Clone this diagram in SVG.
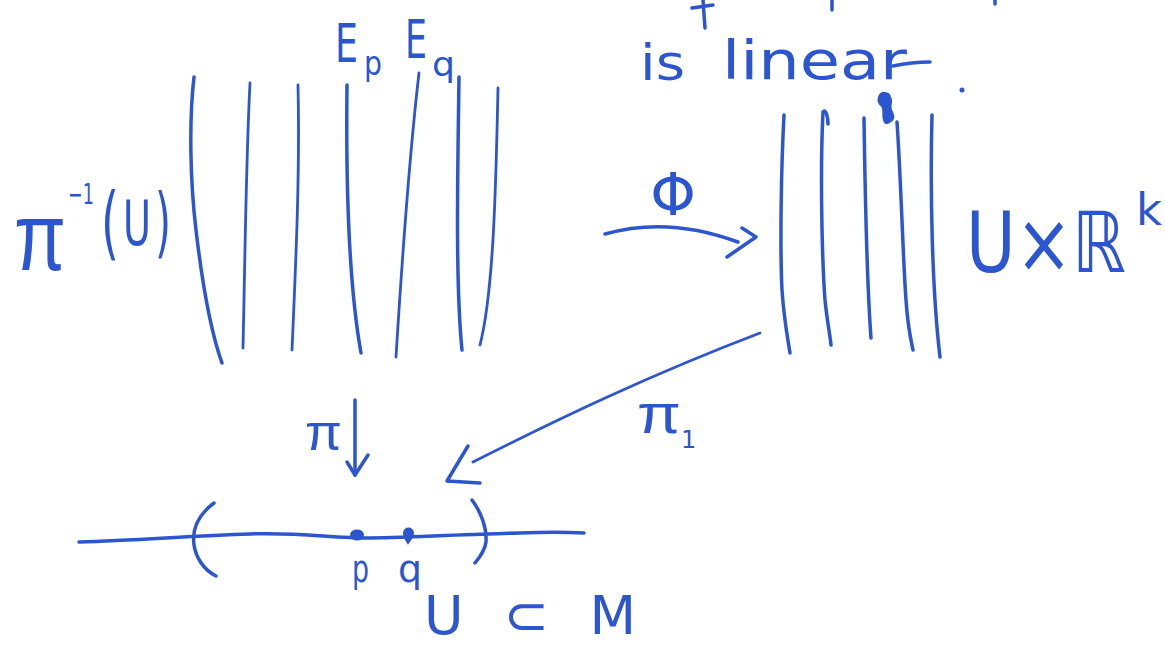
<svg xmlns="http://www.w3.org/2000/svg" width="1165" height="647" viewBox="0 0 1165 647">
  <style>
    .ink { fill: none; stroke: #2c56cf; stroke-width: 3.5; stroke-linecap: round; stroke-linejoin: round; }
    .thin { stroke-width: 2.8; }
    .lbl { fill: #2c56cf; stroke: none; font-family: "DejaVu Sans", "Liberation Sans", sans-serif; }
    .pi { font-family: "Liberation Sans", "DejaVu Sans", sans-serif; }
    .dot { fill: #2c56cf; stroke: #2c56cf; stroke-width: 2; }
  </style>
  <rect width="1165" height="647" fill="#ffffff"/>

  <!-- fragments of cut-off text at top edge -->
  <g id="top-fragments" class="ink">
    <path d="M703,0 L705,28"/>
    <path d="M692,8 L713,5"/>
    <path d="M832,0 L832,10"/>
    <path d="M995,0 L995,4"/>
  </g>

  <g id="label-is-linear">
    <text class="lbl" x="640" y="80" font-size="50" textLength="45" lengthAdjust="spacingAndGlyphs">is</text>
    <text class="lbl" x="722" y="79" font-size="54" textLength="185" lengthAdjust="spacingAndGlyphs">linear</text>
    <path class="ink" d="M893,66 Q912,62 930,62"/>
  </g>

  <g id="node-preimage">
    <g id="bundle-left" class="ink">
      <path d="M194,77 C189,120 190,180 196,230 C203,290 212,335 222,363"/>
      <path class="thin" d="M250,83 C246,160 245,260 243,348"/>
      <path class="thin" d="M298,85 C300,170 296,260 292,350"/>
      <path d="M347,85 C346,170 348,280 361,353"/>
      <path class="thin" d="M419,73 C410,150 402,260 396,357"/>
      <path d="M459,77 C458,160 455,280 462,350"/>
      <path class="thin" d="M498,88 C496,180 494,290 480,345"/>
    </g>
    <text class="lbl pi" x="14" y="270" font-size="96" textLength="52" lengthAdjust="spacingAndGlyphs">π</text>
    <text class="lbl" x="68" y="204" font-size="28" textLength="26" lengthAdjust="spacingAndGlyphs">−1</text>
    <text class="lbl" x="101" y="250" font-size="80" textLength="18" lengthAdjust="spacingAndGlyphs">(</text>
    <text class="lbl" x="123" y="245" font-size="62" textLength="28" lengthAdjust="spacingAndGlyphs">U</text>
    <text class="lbl" x="155" y="248" font-size="76" textLength="16" lengthAdjust="spacingAndGlyphs">)</text>
  </g>

  <g id="label-fibres">
    <text class="lbl" x="335" y="62" font-size="54" textLength="23" lengthAdjust="spacingAndGlyphs">E</text>
    <text class="lbl" x="364" y="75" font-size="34" textLength="18" lengthAdjust="spacingAndGlyphs">p</text>
    <text class="lbl" x="405" y="58" font-size="54" textLength="22" lengthAdjust="spacingAndGlyphs">E</text>
    <text class="lbl" x="432" y="76" font-size="34" textLength="23" lengthAdjust="spacingAndGlyphs">q</text>
  </g>

  <g id="node-product">
    <g id="bundle-right" class="ink">
      <path d="M784,115 C781,170 780,250 782,290 C784,320 788,340 790,353"/>
      <path d="M823,112 C826,108 828,118 828,124 M823,112 C820,170 822,260 825,300 C827,320 830,335 831,345"/>
      <path d="M864,118 C865,180 866,270 871,338"/>
      <path d="M897,122 C901,180 903,260 906,300 C908,330 912,345 913,350"/>
      <path d="M932,115 C930,190 932,290 940,357"/>
      <path class="dot" d="M879,97 C881,91 889,92 890,97 C893,101 889,106 891,110 C893,114 895,118 891,121 C887,124 885,124 884,120 C882,115 885,110 882,106 C878,103 878,100 879,97 Z"/>
    </g>
    <circle class="dot" cx="962" cy="90" r="1.5"/>
    <text class="lbl" x="966" y="272" font-size="84" textLength="160" lengthAdjust="spacingAndGlyphs">U×ℝ</text>
    <text class="lbl" x="1136" y="225" font-size="44" textLength="26" lengthAdjust="spacingAndGlyphs">k</text>
  </g>

  <g id="node-base">
    <path class="ink" d="M79,542 C140,540 190,536 250,534 C300,532 330,538 370,538 C420,537 470,534 520,533 C545,532 565,532 584,533"/>
    <path class="ink" d="M214,503 C198,515 192,530 194,545 C196,558 204,570 216,576"/>
    <path class="ink" d="M472,500 C481,512 487,528 486,542 C485,550 480,557 475,563"/>
    <path class="dot" d="M351,535 C351,529 363,529 363,535 C363,541 351,541 351,535 Z"/>
    <path class="dot" d="M404,533 C404,527 413,527 413,533 C413,537 410,540 408,543 C406,540 404,537 404,533 Z"/>
    <text class="lbl" x="352" y="582" font-size="38" textLength="17" lengthAdjust="spacingAndGlyphs">p</text>
    <text class="lbl" x="398" y="582" font-size="38" textLength="24" lengthAdjust="spacingAndGlyphs">q</text>
    <text class="lbl" x="424" y="634" font-size="54" textLength="212" lengthAdjust="spacing">U⊂M</text>
  </g>

  <g id="connectors" class="ink">
    <g id="arrow-phi">
      <path d="M605,234 Q668,216 738,242"/>
      <path d="M742,228 L756,237 L727,257"/>
      <text class="lbl" x="673" y="215" font-size="58" text-anchor="middle" font-family="Liberation Serif, serif">Φ</text>
    </g>
    <g id="arrow-pi">
      <path d="M355,400 L355,475"/>
      <path d="M347,462 L355,475 L368,455"/>
      <text class="lbl pi" x="305" y="450" font-size="50" textLength="37" lengthAdjust="spacingAndGlyphs">π</text>
    </g>
    <g id="arrow-pi1">
      <path class="thin" d="M760,333 C650,375 560,418 473,462"/>
      <path d="M468,446 L447,481 L480,483"/>
      <text class="lbl pi" x="637" y="433" font-size="56" textLength="44" lengthAdjust="spacingAndGlyphs">π</text>
      <text class="lbl" x="681" y="448" font-size="24">1</text>
    </g>
  </g>
</svg>
